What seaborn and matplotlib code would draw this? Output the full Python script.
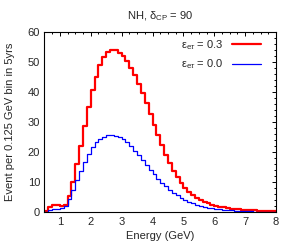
import numpy as np
import pandas as pd
import seaborn as sns
import matplotlib.pyplot as plt
import matplotlib.ticker as ticker
from matplotlib.lines import Line2D

# BIN EDGES: 0.125 GEV BINS FROM 0.5 TO 8 GEV
edges = list(np.arange(0.5, 8.0001, 0.125))
centers = [e + 0.0625 for e in edges[:-1]]

# EVENTS PER BIN, eps_etau = 0.3
events_03 = [0.5, 1.8, 2.5, 2.4, 2.0, 2.6, 5.5, 10.2, 16.0, 22.2,
             28.7, 35.0, 40.6, 45.2, 49.0, 51.7, 53.4, 54.2, 53.9, 53.2,
             52.2, 50.5, 48.2, 45.6, 42.8, 39.7, 36.3, 32.8, 29.2, 25.7,
             22.3, 19.2, 16.3, 13.9, 11.7, 9.8, 8.2, 6.9, 5.8, 4.9,
             4.1, 3.5, 3.0, 2.6, 2.2, 1.9, 1.7, 1.5, 1.3, 1.15,
             1.0, 0.9, 0.8, 0.7, 0.65, 0.6, 0.55, 0.5, 0.45, 0.4]

# EVENTS PER BIN, eps_etau = 0.0
events_00 = [0.3, 0.8, 1.1, 1.2, 1.4, 2.2, 4.3, 7.5, 10.8, 13.9,
             16.9, 19.4, 21.6, 23.3, 24.4, 25.2, 25.7, 25.8, 25.5, 25.0,
             24.3, 23.3, 22.0, 20.6, 19.0, 17.4, 15.8, 14.2, 12.7, 11.2,
             9.9, 8.7, 7.6, 6.6, 5.7, 4.9, 4.2, 3.6, 3.1, 2.6,
             2.2, 1.9, 1.6, 1.35, 1.15, 1.0, 0.85, 0.75, 0.65, 0.55,
             0.5, 0.42, 0.37, 0.32, 0.28, 0.25, 0.22, 0.2, 0.18, 0.16]

labels = ["ε$_{\\mathrm{e}τ}$ = 0.3", "ε$_{\\mathrm{e}τ}$ = 0.0"]
colors = ["#ff0000", "#0000ff"]
widths = [1.6, 0.9]

sns.set_style("white")
plt.rcParams['font.family'] = ['Liberation Sans', 'DejaVu Sans']
plt.rcParams['mathtext.fontset'] = 'custom'
plt.rcParams['mathtext.rm'] = 'Liberation Sans'
plt.rcParams['mathtext.it'] = 'Liberation Sans:italic'

fig = plt.figure(figsize=(2.94, 2.45), dpi=100)
ax = fig.add_axes([0.151, 0.133, 0.788, 0.736])

for vals, col, lw in zip([events_03, events_00], colors, widths):
    df = pd.DataFrame({"Energy": centers, "Events": vals})
    sns.histplot(data=df, x="Energy", weights="Events", bins=edges,
                 element="step", fill=False, color=col, linewidth=lw, ax=ax)

ax.set_xlim(0.5, 8)
ax.set_ylim(0, 60)
ax.xaxis.set_major_locator(ticker.MultipleLocator(1))
ax.xaxis.set_minor_locator(ticker.MultipleLocator(0.25))
ax.yaxis.set_major_locator(ticker.MultipleLocator(10))
ax.yaxis.set_minor_locator(ticker.MultipleLocator(2))
ax.tick_params(which="both", direction="in", top=True, right=True,
               labelsize=8, width=0.7, color="black", pad=3)
ax.tick_params(which="major", length=3)
ax.tick_params(which="minor", length=1.6)
for s in ax.spines.values():
    s.set_linewidth(0.8)
    s.set_color("black")

ax.set_title("NH, δ$_{\\mathrm{CP}}$ = 90", fontsize=8, pad=9)
ax.set_xlabel("Energy (GeV)", fontsize=8, labelpad=3)
ax.set_ylabel("Event per 0.125 GeV bin in 5yrs", fontsize=8, labelpad=9)

handles = [Line2D([], [], color=c, linewidth=w) for c, w in zip(colors, widths)]
ax.legend(handles, labels, loc="upper right", bbox_to_anchor=(0.97, 1.01),
          markerfirst=False, frameon=False,
          fontsize=8, handlelength=2.6, handletextpad=0.8, labelspacing=0.5,
          borderaxespad=0.3)

fig.savefig("out.png", dpi=100)
